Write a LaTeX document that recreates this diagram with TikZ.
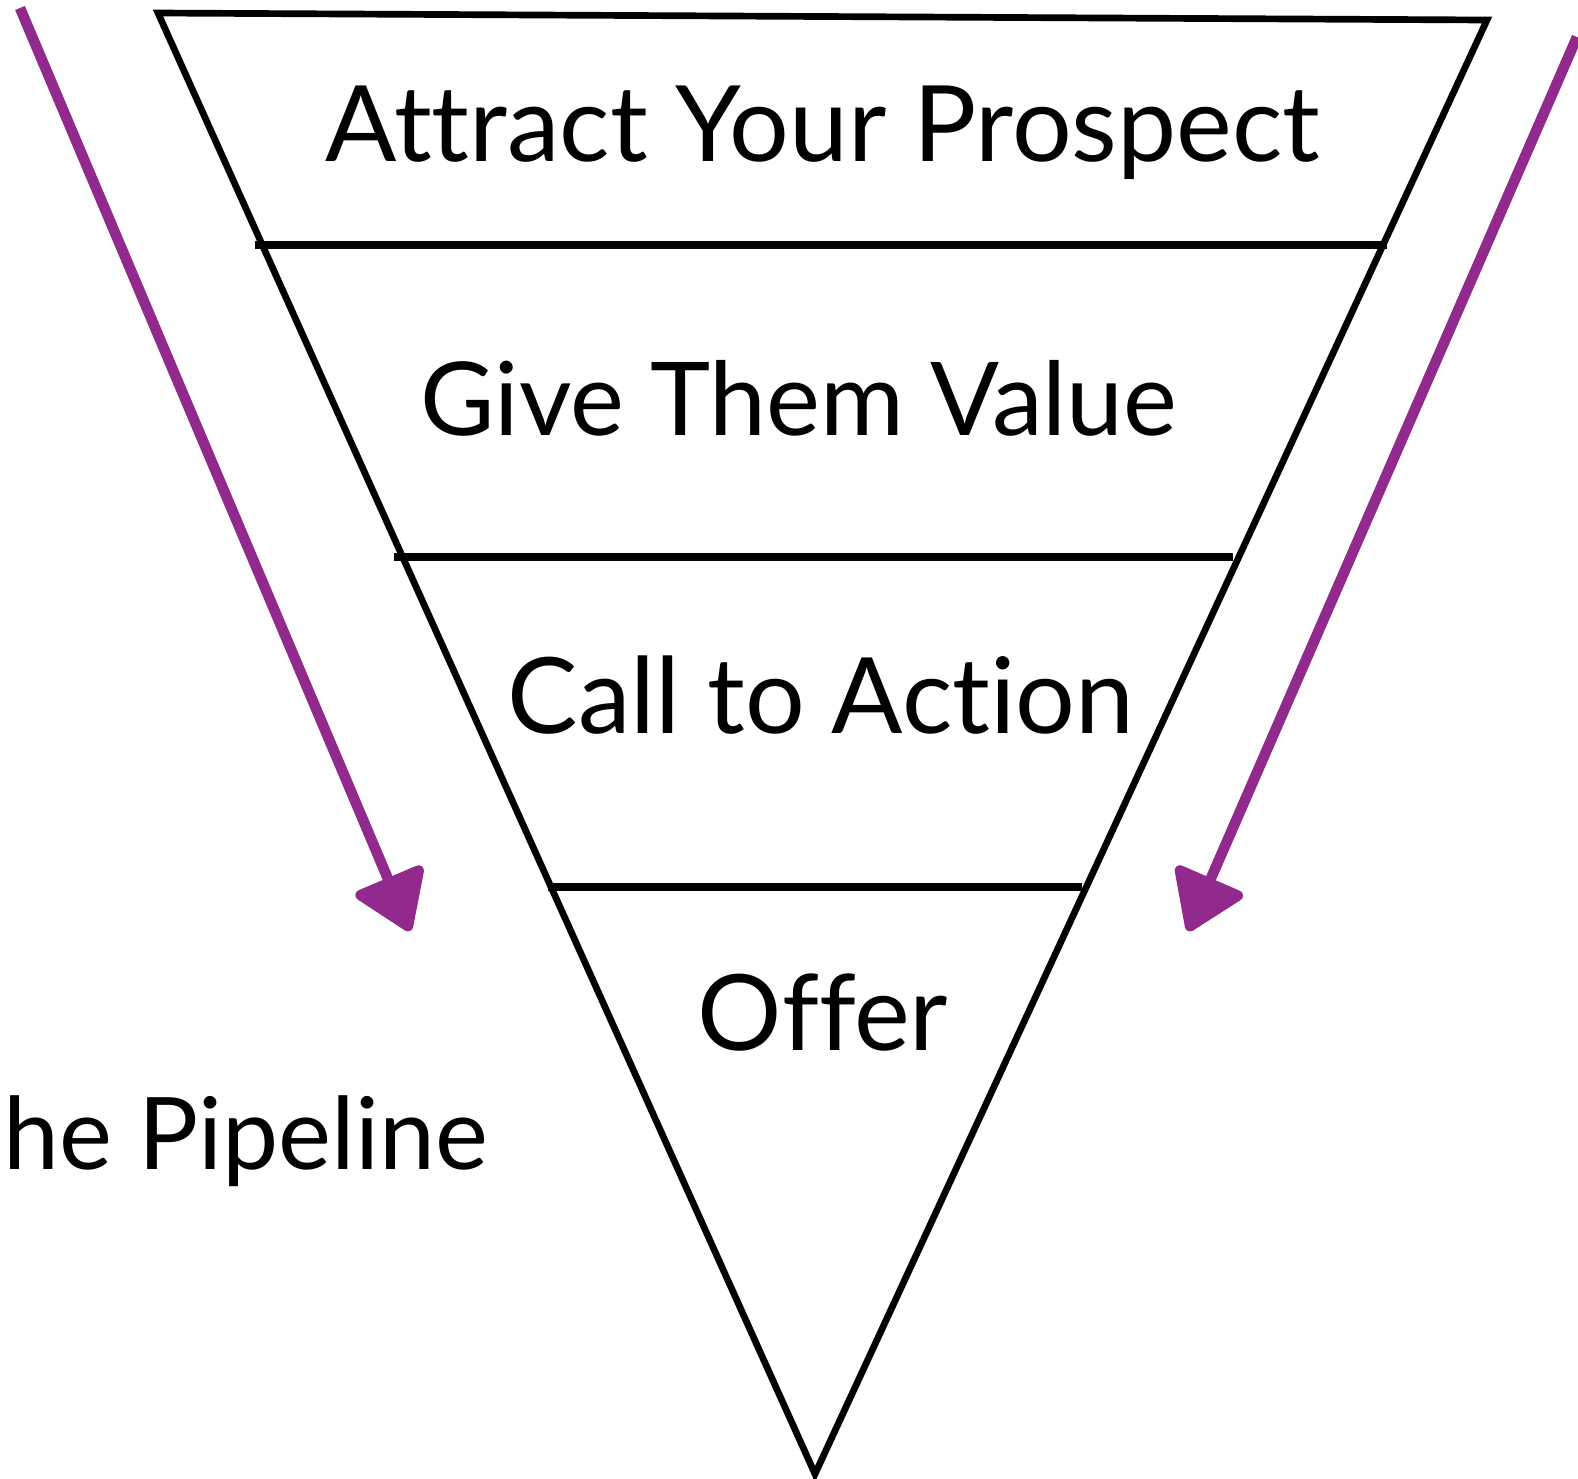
\documentclass[tikz,border=0pt]{standalone}
\usepackage{fontspec}
\setmainfont[Ligatures={NoCommon}]{Lato}
\usetikzlibrary{arrows.meta}
\definecolor{funnelpurple}{RGB}{146,42,142}

\begin{document}
\begin{tikzpicture}[x=0.01cm,y=-0.01cm,line join=miter]
    \tikzset{stage/.style={anchor=base,inner sep=0pt,font=\fontsize{30}{36}\selectfont}}
    \tikzset{divider/.style={draw,line width=2.2pt}}
    \tikzset{flow/.style={draw=funnelpurple,line width=3pt,-{Triangle[length=0.62cm,width=0.8cm,round]}}}
    \useasboundingbox (0,0) rectangle (1578,1478);

    % funnel outline
    \coordinate (tl) at (158,13);
    \coordinate (tr) at (1487,20);
    \coordinate (tip) at (815,1474);
    \draw[line width=1.9pt] (tl) -- (tr) -- (tip) -- cycle;

    % dividers
    \coordinate (d1l) at (255,245);
    \coordinate (d1r) at (1387,245);
    \coordinate (d2l) at (394,557);
    \coordinate (d2r) at (1233,557);
    \coordinate (d3l) at (548,887);
    \coordinate (d3r) at (1082,887);
    \path[divider] (d1l) -- (d1r);
    \path[divider] (d2l) -- (d2r);
    \path[divider] (d3l) -- (d3r);

    % stages
    \node[stage] (attract) at (823,161) {Attract Your Prospect};
    \node[stage,font=\fontsize{29}{35}\selectfont] (value) at (799,435) {Give Them Value};
    \node[stage] (action) at (821,733) {Call to Action};
    \node[stage] (offer) at (823,1050) {Offer};
    \node[stage,anchor=base west,font=\fontsize{28.5}{34}\selectfont] (pipeline) at (3,1169) {he Pipeline};

    % arrows
    \coordinate (la) at (20,8);
    \coordinate (lb) at (410,931);
    \coordinate (ra) at (1577,37);
    \coordinate (rb) at (1188,931);
    \path[flow] (la) -- (lb);
    \path[flow] (ra) -- (rb);
\end{tikzpicture}
\end{document}
